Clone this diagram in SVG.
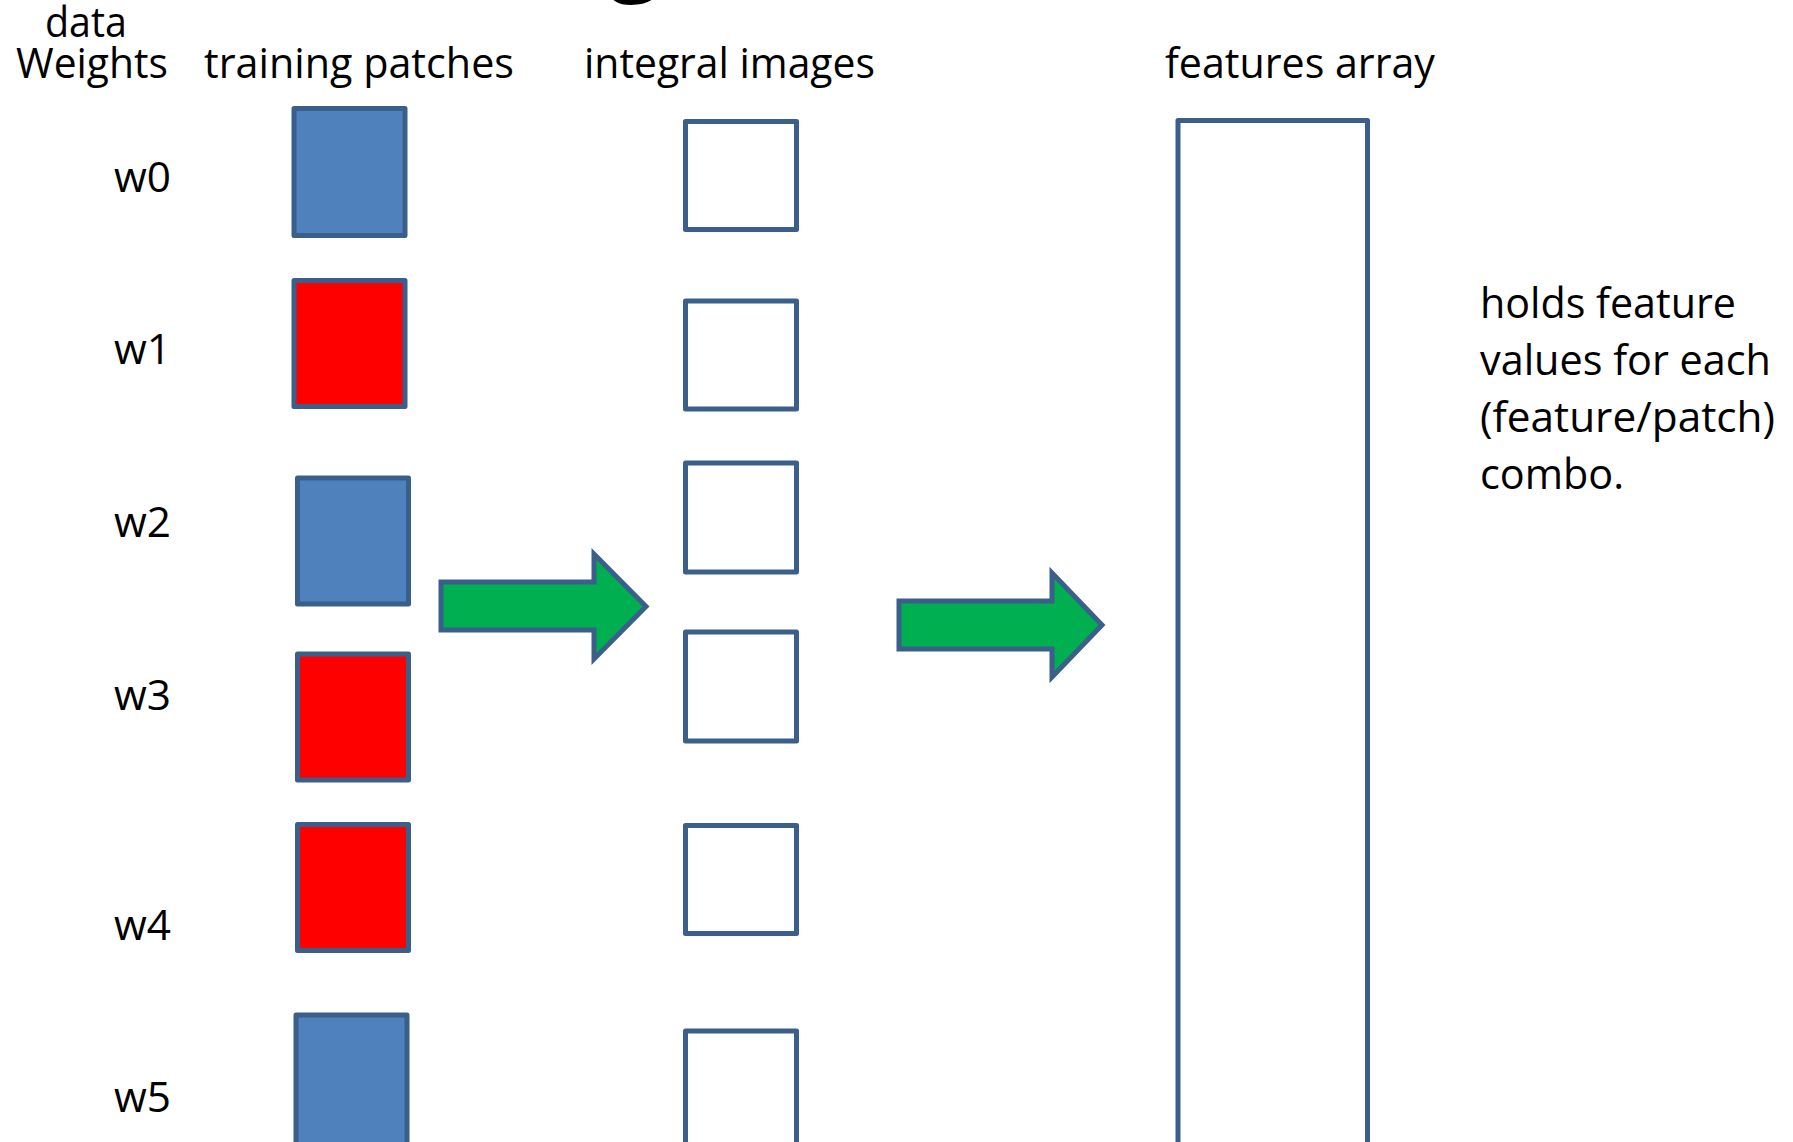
<svg xmlns="http://www.w3.org/2000/svg" width="1793" height="1142" viewBox="0 0 1793 1142">
<style>
  .t { font-family: "Open Sans", "Noto Sans", "Liberation Sans", sans-serif; font-size: 42px; fill: #000; }
  .patch { stroke: #3A5F8B; stroke-width: 5; stroke-linejoin: round; }
  .blue { fill: #4F81BD; }
  .red { fill: #FF0000; }
  .box { fill: #FFFFFF; stroke: #3A5F8B; stroke-width: 5; stroke-linejoin: round; }
  .arrow { fill: #00B050; stroke: #3A5F8B; stroke-width: 5; stroke-linejoin: miter; }
</style>
<rect x="0" y="0" width="1793" height="1142" fill="#FFFFFF"/>

<g id="title-fragment">
  <text x="610" y="-16" style="font-family: 'Open Sans', 'Liberation Sans', sans-serif; font-size: 88px; font-weight: bold; fill: #000;">g</text>
</g>

<g id="headers">
  <text class="t" x="45" y="37" textLength="82" lengthAdjust="spacingAndGlyphs">data</text>
  <text class="t" x="16" y="78" textLength="152" lengthAdjust="spacingAndGlyphs">Weights</text>
  <text class="t" x="204" y="78" textLength="310" lengthAdjust="spacingAndGlyphs">training patches</text>
  <text class="t" x="584" y="78" textLength="291" lengthAdjust="spacingAndGlyphs">integral images</text>
  <text class="t" x="1165" y="78" textLength="270" lengthAdjust="spacingAndGlyphs">features array</text>
</g>

<g id="weights">
  <text class="t" x="114" y="192" textLength="57" lengthAdjust="spacingAndGlyphs">w0</text>
  <text class="t" x="114" y="364" textLength="57" lengthAdjust="spacingAndGlyphs">w1</text>
  <text class="t" x="114" y="537" textLength="57" lengthAdjust="spacingAndGlyphs">w2</text>
  <text class="t" x="114" y="710" textLength="57" lengthAdjust="spacingAndGlyphs">w3</text>
  <text class="t" x="114" y="940" textLength="57" lengthAdjust="spacingAndGlyphs">w4</text>
  <text class="t" x="114" y="1112" textLength="57" lengthAdjust="spacingAndGlyphs">w5</text>
</g>

<g id="patch-0"><rect class="patch blue" x="294" y="108.5" width="111" height="127"/></g>
<g id="patch-1"><rect class="patch red" x="294" y="280.5" width="111" height="126"/></g>
<g id="patch-2"><rect class="patch blue" x="297.5" y="478" width="111" height="126"/></g>
<g id="patch-3"><rect class="patch red" x="297.5" y="654" width="111" height="126"/></g>
<g id="patch-4"><rect class="patch red" x="297.5" y="824.5" width="111" height="126"/></g>
<g id="patch-5"><rect class="patch blue" x="296" y="1015" width="111" height="150"/></g>

<g id="integral-0"><rect class="box" x="685.5" y="121.5" width="111" height="108"/></g>
<g id="integral-1"><rect class="box" x="685.5" y="301" width="111" height="108"/></g>
<g id="integral-2"><rect class="box" x="685.5" y="463" width="111" height="109"/></g>
<g id="integral-3"><rect class="box" x="685.5" y="632" width="111" height="109"/></g>
<g id="integral-4"><rect class="box" x="685.5" y="825.5" width="111" height="108"/></g>
<g id="integral-5"><rect class="box" x="685.5" y="1031" width="111" height="150"/></g>

<g id="features-array"><rect class="box" x="1178" y="120.5" width="189.5" height="1100"/></g>

<g id="note">
  <text class="t" x="1480" y="318" textLength="256" lengthAdjust="spacingAndGlyphs">holds feature</text>
  <text class="t" x="1480" y="375" textLength="291" lengthAdjust="spacingAndGlyphs">values for each</text>
  <text class="t" x="1480" y="432" textLength="295" lengthAdjust="spacingAndGlyphs">(feature/patch)</text>
  <text class="t" x="1480" y="489" textLength="144" lengthAdjust="spacingAndGlyphs">combo.</text>
</g>

<g id="connectors">
  <path class="arrow" d="M441,582 L594,582 L594,554 L646,606.5 L594,659 L594,630 L441,630 Z"/>
  <path class="arrow" d="M899,601 L1052,601 L1052,573 L1102,625 L1052,677 L1052,649 L899,649 Z"/>
</g>
</svg>
